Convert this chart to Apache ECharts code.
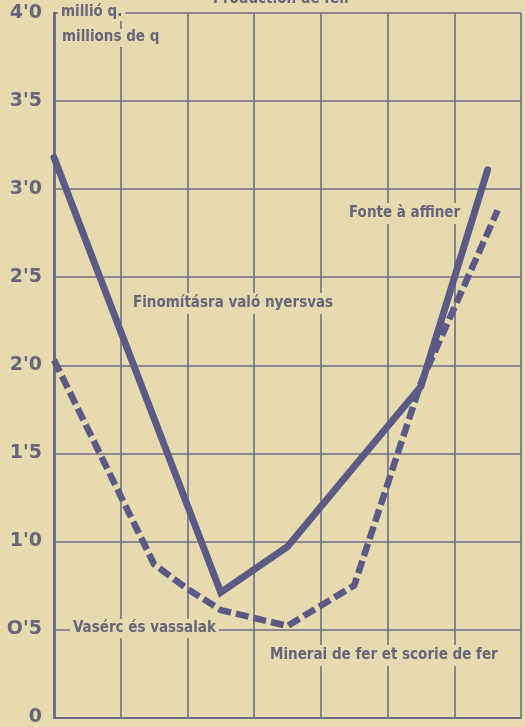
<!DOCTYPE html>
<html>
<head>
<meta charset="utf-8">
<script src="https://cdn.jsdelivr.net/npm/echarts@6/dist/echarts.min.js"></script>
<style>
html,body{margin:0;padding:0;background:#e6dbb0;}
#c{width:525px;height:727px;}
</style>
</head>
<body>
<div id="c"></div>
<script>
// x positions are relative positions along the (unlabelled) horizontal axis
var fonteX = [0, 2.5, 3.5, 5.5, 6.5];
var fonteY = [3.18, 0.71, 0.97, 1.88, 3.11];
var mineraiX = [0, 1.5, 2, 2.5, 3.5, 4.5, 5.5, 6.65];
var mineraiY = [2.03, 0.87, 0.73, 0.61, 0.52, 0.75, 1.9, 2.88];
var yTicks = [0, 0.5, 1, 1.5, 2, 2.5, 3, 3.5, 4];
var yTickLabels = ["0", "O'5", "1'0", "1'5", "2'0", "2'5", "3'0", "3'5", "4'0"];

function pairs(xs, ys) { return xs.map(function (x, i) { return [x, ys[i]]; }); }

var ink = '#5c5a84';
var gridInk = '#6f6d84';
var textInk = '#67657a';
var paper = '#e6dbb0';
var lblFont = 'bold 15px "DejaVu Sans Condensed", "DejaVu Sans", sans-serif';

var chart = echarts.init(document.getElementById('c'));
chart.setOption({
  backgroundColor: paper,
  animation: false,
  grid: { left: 54, right: 4, top: 13, bottom: 8 },
  xAxis: {
    type: 'value', min: 0, max: 7, interval: 1,
    axisLabel: { show: false }, axisTick: { show: false },
    axisLine: { show: true, lineStyle: { color: gridInk, width: 2 } },
    splitLine: { show: true, lineStyle: { color: gridInk, width: 1.6 } }
  },
  yAxis: {
    type: 'value', min: 0, max: 4, interval: 0.5,
    axisLine: { show: true, onZero: false, lineStyle: { color: gridInk, width: 3 } },
    axisTick: { show: false },
    axisLabel: {
      color: textInk, fontSize: 19, fontWeight: 'bold', fontFamily: '"DejaVu Sans", sans-serif',
      margin: 12,
      formatter: function (v) {
        var i = yTicks.indexOf(Math.round(v * 10) / 10);
        return i >= 0 ? yTickLabels[i] : '';
      }
    },
    splitLine: { show: true, lineStyle: { color: gridInk, width: 1.6 } }
  },
  series: [
    {
      name: 'Fonte à affiner', type: 'line', data: pairs(fonteX, fonteY),
      symbol: 'none', z: 5,
      lineStyle: { color: ink, width: 7, cap: 'round', join: 'miter' }
    },
    {
      name: 'Minerai de fer et scorie de fer', type: 'line', data: pairs(mineraiX, mineraiY),
      symbol: 'none', z: 5,
      lineStyle: { color: ink, width: 6.5, type: [13, 5], cap: 'butt', join: 'round' }
    }
  ],
  graphic: [
    { type: 'text', z: 3, left: 213, top: -8, style: { text: 'Production de fer.', font: 'bold 15px "DejaVu Sans Condensed", sans-serif', fill: textInk } },
    { type: 'text', z: 3, left: 58, top: 4, style: { text: 'millió q.', font: lblFont, fill: textInk, backgroundColor: paper, padding: [1, 3, 1, 3] } },
    { type: 'text', z: 3, left: 59, top: 29, style: { text: 'millions de q', font: lblFont, fill: textInk, backgroundColor: paper, padding: [1, 3, 2, 3] } },
    { type: 'text', z: 3, left: 130, top: 293, style: { text: 'Finomításra való nyersvas', font: lblFont, fill: textInk, backgroundColor: paper, padding: [3, 3, 3, 3] } },
    { type: 'text', z: 3, left: 346, top: 203, style: { text: 'Fonte à affiner', font: lblFont, fill: textInk, backgroundColor: paper, padding: [3, 3, 3, 3] } },
    { type: 'text', z: 3, left: 70, top: 619, style: { text: 'Vasérc és vassalak', font: lblFont, fill: textInk, backgroundColor: paper, padding: [2, 3, 2, 3] } },
    { type: 'text', z: 3, left: 267, top: 645, style: { text: 'Minerai de fer et scorie de fer', font: lblFont, fill: textInk, backgroundColor: paper, padding: [3, 3, 3, 3] } }
  ]
});
</script>
</body>
</html>
